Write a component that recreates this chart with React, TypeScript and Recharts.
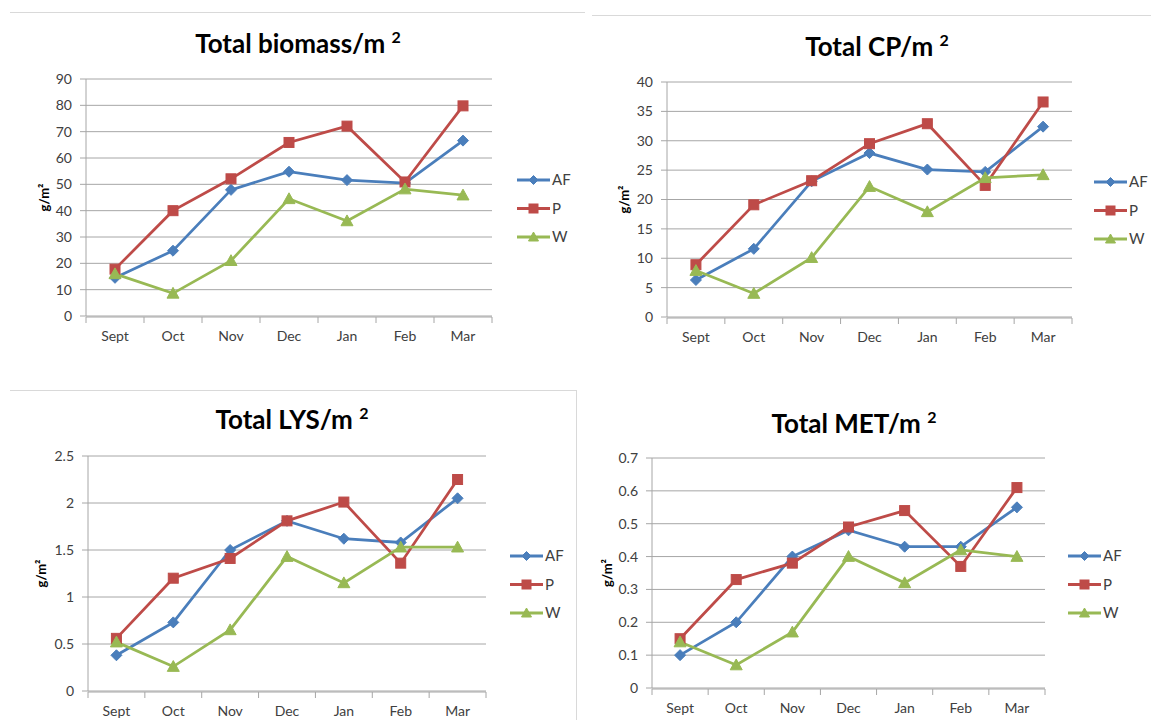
import React from 'react';
import { LineChart, Line, XAxis, YAxis, CartesianGrid, Legend } from 'recharts';

const months = ['Sept', 'Oct', 'Nov', 'Dec', 'Jan', 'Feb', 'Mar'];
const seriesNames = ['AF', 'P', 'W'];
const seriesColors = ['#4A7EBB', '#BE4B48', '#98B954'];
const seriesShapes = ['diamond', 'square', 'triangle'];

const biomassAF = [14.5, 24.8, 47.9, 54.8, 51.6, 50.5, 66.6];
const biomassP = [17.8, 40.0, 52.1, 65.9, 72.1, 50.9, 79.8];
const biomassW = [16.0, 8.6, 21.0, 44.5, 36.1, 48.2, 45.9];
const biomassTicks = [0, 10, 20, 30, 40, 50, 60, 70, 80, 90];

const cpAF = [6.3, 11.6, 23.1, 27.9, 25.1, 24.7, 32.4];
const cpP = [8.9, 19.1, 23.2, 29.5, 32.9, 22.4, 36.6];
const cpW = [7.9, 4.0, 10.1, 22.2, 17.9, 23.7, 24.2];
const cpTicks = [0, 5, 10, 15, 20, 25, 30, 35, 40];

const lysAF = [0.38, 0.73, 1.5, 1.81, 1.62, 1.58, 2.05];
const lysP = [0.56, 1.2, 1.41, 1.81, 2.01, 1.36, 2.25];
const lysW = [0.52, 0.26, 0.65, 1.43, 1.15, 1.53, 1.53];
const lysTicks = [0, 0.5, 1, 1.5, 2, 2.5];

const metAF = [0.1, 0.2, 0.4, 0.48, 0.43, 0.43, 0.55];
const metP = [0.15, 0.33, 0.38, 0.49, 0.54, 0.37, 0.61];
const metW = [0.14, 0.07, 0.17, 0.4, 0.32, 0.42, 0.4];
const metTicks = [0, 0.1, 0.2, 0.3, 0.4, 0.5, 0.6, 0.7];

// category boundaries: 0..7, each month sits in the middle of its slot
const edgeTicks = months.map((_, i) => i).concat(months.length);

const gridColor = '#a6a6a6';
const textColor = '#404040';
const font = 'Lato, "Open Sans", sans-serif';
const yAxisW = 50;

// layout of each panel, page coordinates
const panels = [
  {
    title: 'Total biomass/m', ticks: biomassTicks, values: [biomassAF, biomassP, biomassW],
    box: { left: 0, top: 0, width: 590, height: 360 },
    plot: { x: 86, y: 79, r: 492, b: 316 },
    titleX: 298, titleY: 30, labelX: 44, legendX: 517, legendY: 180,
  },
  {
    title: 'Total CP/m', ticks: cpTicks, values: [cpAF, cpP, cpW],
    box: { left: 590, top: 0, width: 561, height: 360 },
    plot: { x: 667, y: 82, r: 1072, b: 317 },
    titleX: 877, titleY: 33, labelX: 624, legendX: 1094, legendY: 182,
  },
  {
    title: 'Total LYS/m', ticks: lysTicks, values: [lysAF, lysP, lysW],
    box: { left: 0, top: 380, width: 580, height: 340 },
    plot: { x: 88, y: 456, r: 486, b: 691 },
    titleX: 292, titleY: 406, labelX: 41, legendX: 510, legendY: 556,
  },
  {
    title: 'Total MET/m', ticks: metTicks, values: [metAF, metP, metW],
    box: { left: 580, top: 380, width: 571, height: 340 },
    plot: { x: 652, y: 458, r: 1045, b: 688 },
    titleX: 854, titleY: 410, labelX: 607, legendX: 1068, legendY: 556,
  },
];

function Marker({ shape, cx, cy, color, size }: any) {
  const s = size / 2;
  if (shape === 'diamond') {
    return <polygon points={`${cx},${cy - s} ${cx + s},${cy} ${cx},${cy + s} ${cx - s},${cy}`} fill={color} stroke={color} />;
  }
  if (shape === 'square') {
    return <rect x={cx - s + 0.5} y={cy - s + 0.5} width={size - 1} height={size - 1} fill={color} stroke={color} />;
  }
  return <polygon points={`${cx},${cy - s} ${cx + s},${cy + s * 0.8} ${cx - s},${cy + s * 0.8}`} fill={color} stroke={color} />;
}

function LegendBox() {
  return (
    <svg width={70} height={80} style={{ fontFamily: font }}>
      {seriesNames.map((name, i) => {
        const y = 10 + i * 28.5;
        return (
          <g key={name}>
            <line x1={0} x2={33} y1={y} y2={y} stroke={seriesColors[i]} strokeWidth={3} />
            <Marker shape={seriesShapes[i]} cx={16.5} cy={y} color={seriesColors[i]} size={i === 0 ? 9 : 10} />
            <text x={35} y={y + 5} fontSize={15} fill={textColor}>{name}</text>
          </g>
        );
      })}
    </svg>
  );
}

function Panel({ p }: any) {
  const data = months.map((m, i) => ({
    month: m,
    pos: i + 0.5,
    AF: p.values[0][i],
    P: p.values[1][i],
    W: p.values[2][i],
  }));
  const margin = {
    top: p.plot.y - p.box.top,
    left: p.plot.x - p.box.left - yAxisW,
    right: p.box.left + p.box.width - p.plot.r,
    bottom: p.box.top + p.box.height - p.plot.b - 2,
  };
  const half = (p.plot.r - p.plot.x) / months.length / 2;
  const top = p.ticks[p.ticks.length - 1];
  return (
    <div style={{ position: 'absolute', left: p.box.left, top: p.box.top }}>
      <LineChart width={p.box.width} height={p.box.height} data={data} margin={margin}>
        <CartesianGrid xAxisId="edges" vertical={false} stroke={gridColor} />
        <XAxis
          xAxisId="edges" type="number" dataKey="pos" domain={[0, months.length]} ticks={edgeTicks}
          tick={() => <g />} tickSize={6} tickLine={{ stroke: gridColor }}
          axisLine={{ stroke: gridColor }} height={1}
        />
        <XAxis
          xAxisId="cat" dataKey="month" interval={0} padding={{ left: half, right: half }}
          height={1} tickLine={false} tickSize={0} tickMargin={15} axisLine={false}
          tick={{ fill: textColor, fontSize: 14 }}
        />
        <YAxis
          width={yAxisW} domain={[0, top]} ticks={p.ticks} interval={0}
          axisLine={{ stroke: gridColor }} tickLine={{ stroke: gridColor }} tickSize={6} tickMargin={8}
          tick={{ fill: textColor, fontSize: 14 }}
          label={{
            value: 'g/m²', angle: -90, position: 'center',
            dx: p.labelX - (p.plot.x - yAxisW / 2),
            style: { fontWeight: 'bold', fontSize: 13, fill: '#000' },
          }}
        />
        {seriesNames.map((name, i) => (
          <Line
            key={name} xAxisId="edges" type="linear" dataKey={name} stroke={seriesColors[i]}
            strokeWidth={2.75} isAnimationActive={false} activeDot={false}
            dot={(d: any) => (
              <Marker key={name + d.index} shape={seriesShapes[i]} cx={d.cx} cy={d.cy}
                color={seriesColors[i]} size={i === 2 ? 12 : 11} />
            )}
          />
        ))}
        <Legend
          layout="vertical" align="center" verticalAlign="middle"
          wrapperStyle={{ left: p.legendX - p.box.left, top: p.legendY - p.box.top - 10, width: 70, height: 80 }}
          content={() => <LegendBox />}
        />
      </LineChart>
      <div
        style={{
          position: 'absolute', left: p.titleX - p.box.left, top: p.titleY - p.box.top,
          transform: 'translateX(-50%)', whiteSpace: 'nowrap', fontWeight: 'bold',
          fontSize: 26, lineHeight: '26px', color: '#000',
        }}
      >
        {p.title} <span style={{ fontSize: 16, position: 'relative', top: -10 }}>2</span>
      </div>
    </div>
  );
}

export default function App() {
  return (
    <div style={{ position: 'absolute', left: 0, top: 0, width: 1151, height: 720, background: '#fff', fontFamily: font, overflow: 'hidden' }}>
      <div style={{ position: 'absolute', left: 10, top: 12, width: 575, height: 1, background: '#d9d9d9' }} />
      <div style={{ position: 'absolute', left: 592, top: 15, width: 559, height: 1, background: '#d9d9d9' }} />
      <div style={{ position: 'absolute', left: 10, top: 390, width: 566, height: 1, background: '#d9d9d9' }} />
      <div style={{ position: 'absolute', left: 576, top: 390, width: 1, height: 330, background: '#d9d9d9' }} />
      {panels.map((p) => <Panel key={p.title} p={p} />)}
    </div>
  );
}
